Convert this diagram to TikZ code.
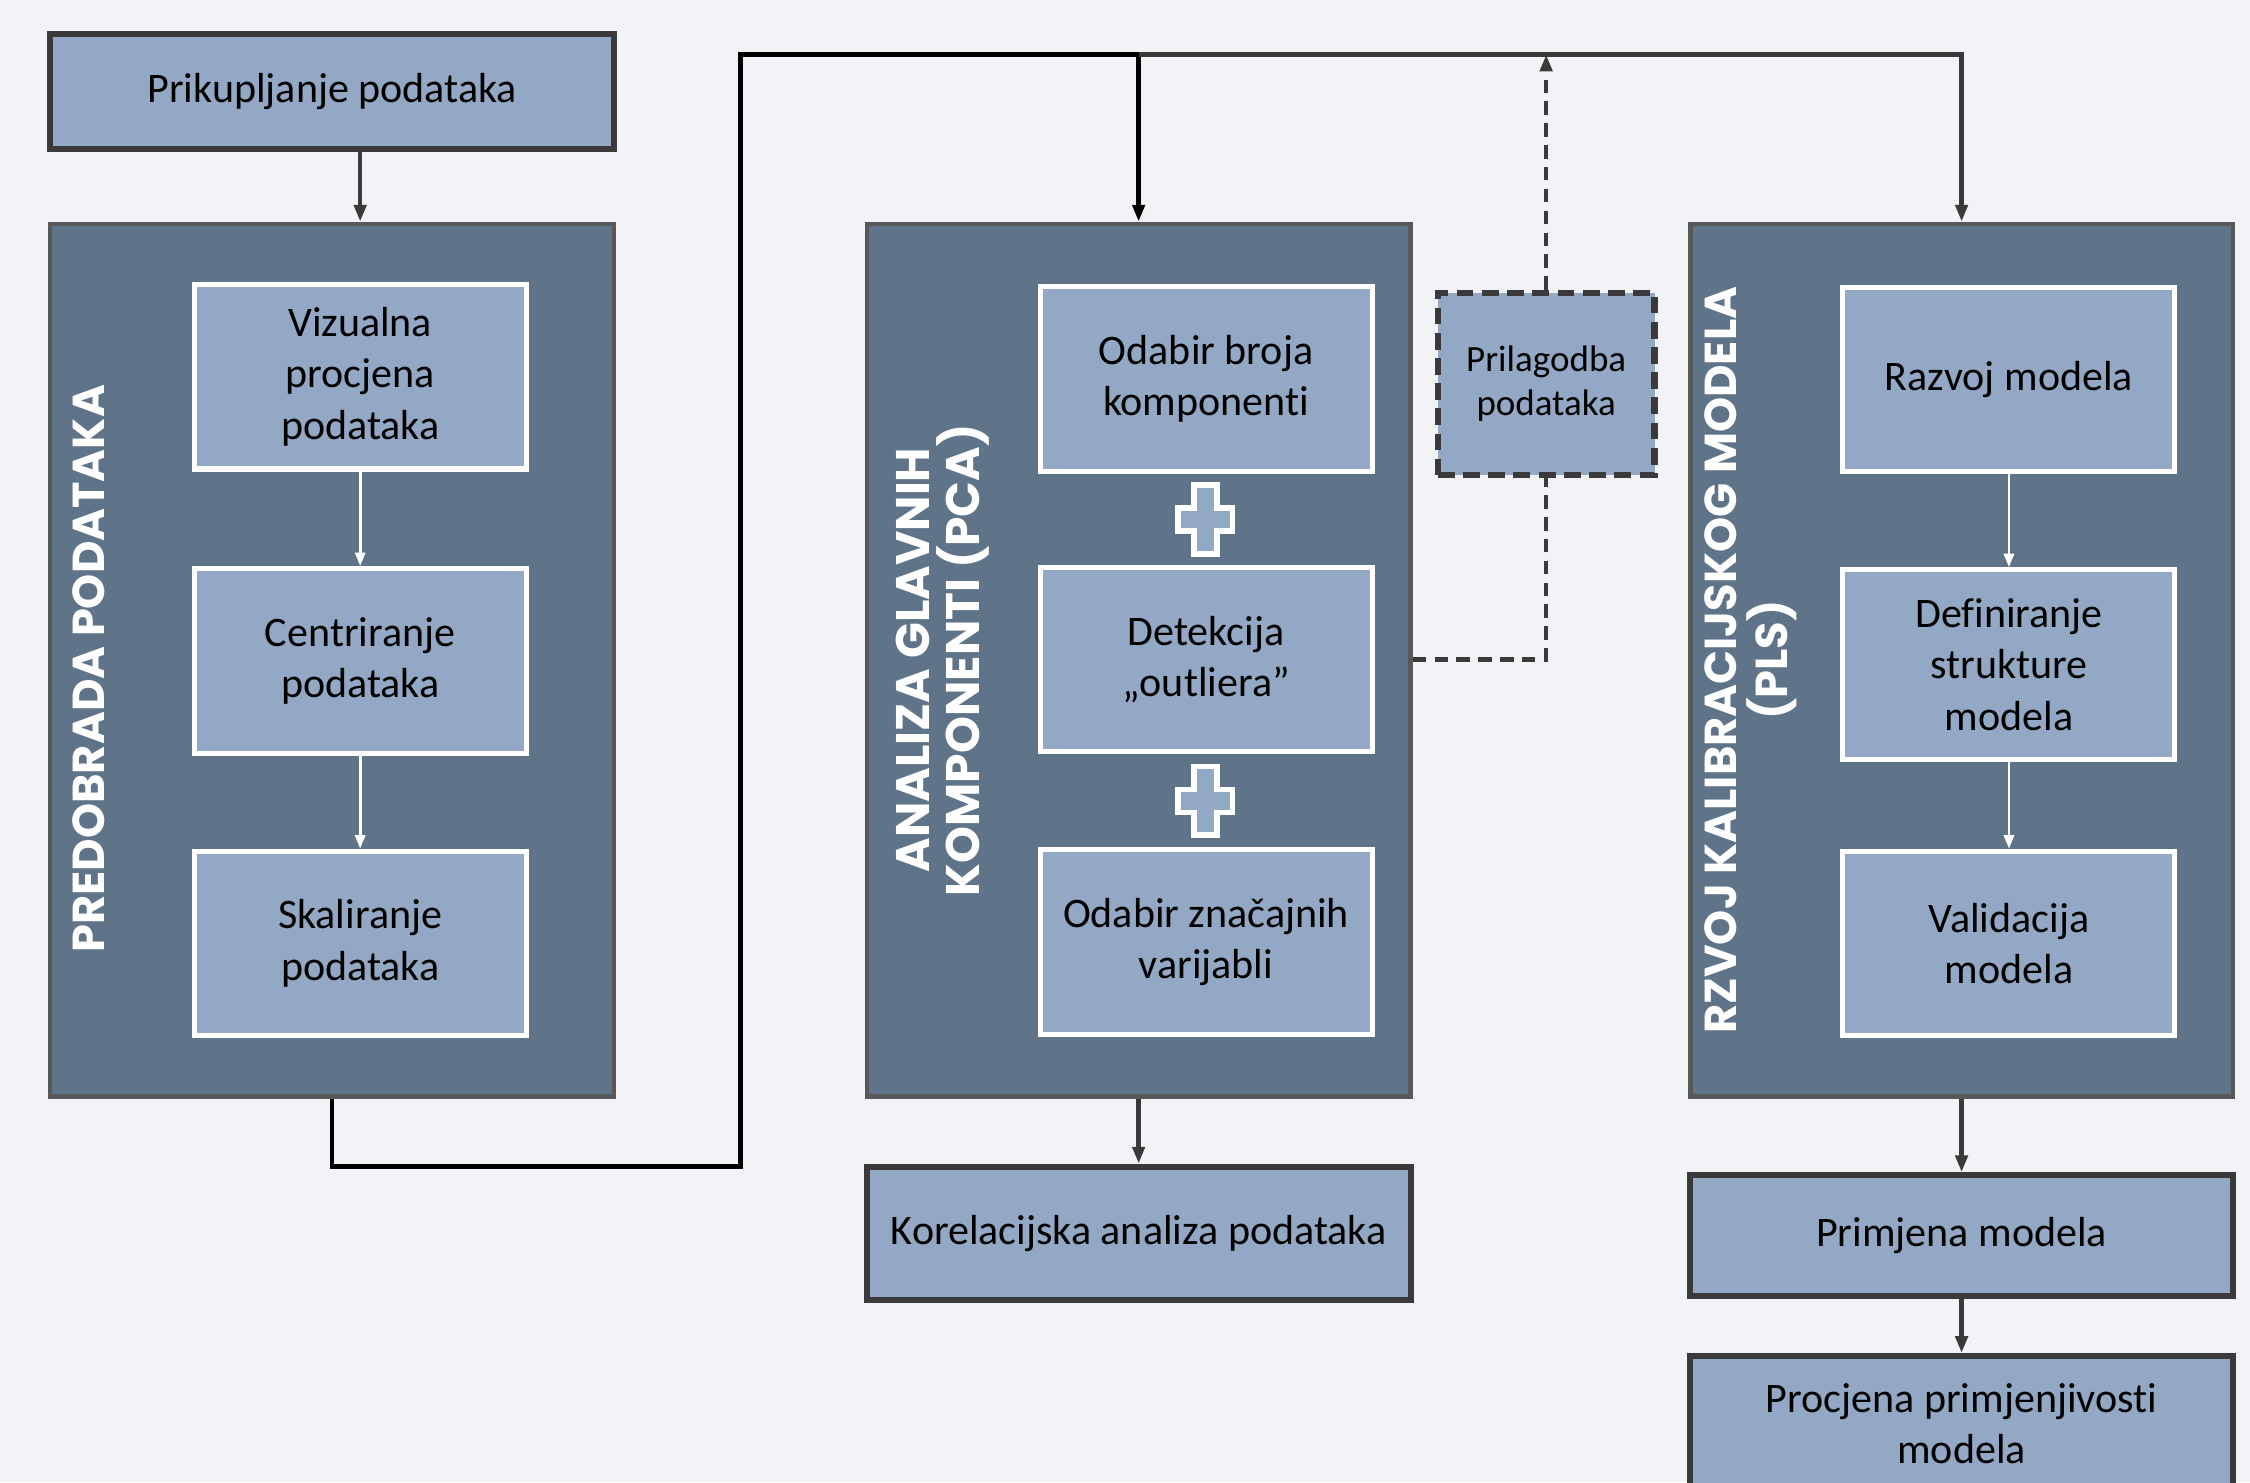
\documentclass[tikz,border=0pt]{standalone}
\usepackage{fontspec}
\setmainfont{Carlito}[Ligatures={TeX,NoCommon}]
\newfontfamily\titlefont{Poppins}
\usetikzlibrary{arrows.meta}
\definecolor{boxblue}{HTML}{93A8C4}
\definecolor{panelblue}{HTML}{607489}
\definecolor{edgegray}{HTML}{3A3A3A}
\definecolor{paper}{HTML}{F2F3F6}
\tikzset{>/.tip={Triangle[length=5pt,width=3.6pt]},
  box/.style={draw=edgegray, line width=1.8pt, fill=boxblue, align=center, inner sep=2pt,
    font=\fontsize{12.5}{15.3}\selectfont},
  inbox/.style={draw=white, line width=1.5pt, fill=boxblue, align=center, inner sep=2pt,
    minimum width=34.7mm, minimum height=19.3mm, font=\fontsize{12.5}{15.3}\selectfont},
  panel/.style={draw=edgegray!85, line width=1.3pt, fill=panelblue,
    minimum width=58.95mm, minimum height=91.2mm},
  paneltitle/.style={rotate=90, text=white, align=center,
    font=\titlefont\bfseries\fontsize{13.3}{15}\selectfont},
  conn/.style={line width=1.3pt, draw=black},
  greyconn/.style={line width=1.3pt, draw=edgegray},
  dashconn/.style={line width=1.3pt, draw=edgegray, dash pattern=on 4pt off 2.5pt},
  inarrow/.style={draw=white, line width=0.8pt, -{Triangle[length=4pt,width=3pt]}},
  plussign/.style={draw=white, line width=1.6pt, fill=boxblue}
}
\begin{document}
\begin{tikzpicture}[x=0.15mm, y=-0.15mm]
\fill[paper] (0,0) rectangle (1568,1033);
\useasboundingbox (0,0) rectangle (1568,1033);

% predobrada
\node[box, minimum width=58.95mm, minimum height=12mm] (prik) at (231.5,64) {Prikupljanje podataka};
\node[panel] (pred) at (231.5,460) {};
\node[paneltitle] (predt) at (62,466) {PREDOBRADA PODATAKA};
\node[inbox] (viz) at (251,262.5) {Vizualna\\procjena\\podataka};
\node[inbox] (cen) at (251,460.5) {Centriranje\\podataka};
\node[inbox] (ska) at (251,657.5) {Skaliranje\\podataka};

% PCA
\node[panel, minimum width=56.85mm] (ana) at (793.5,460) {};
\node[paneltitle, font=\titlefont\bfseries\fontsize{14}{15}\selectfont] (anat) at (657,460) {ANALIZA GLAVNIH\\KOMPONENTI (PCA)};
\node[inbox] (odb) at (840.5,264) {Odabir broja\\komponenti};
\node[inbox] (det) at (840.5,459.5) {Detekcija\\„outliera”};
\node[inbox] (zna) at (840.5,656.5) {Odabir značajnih\\varijabli};
\node[box, minimum width=56.85mm, minimum height=13.95mm] (kor) at (793.5,859.5) {Korelacijska analiza podataka};
\node[box, dash pattern=on 5pt off 2.5pt, minimum width=22.65mm, minimum height=19.05mm,
  font=\fontsize{11}{13}\selectfont] (pri) at (1077.5,267.5) {Prilagodba\\podataka};

% PLS
\node[panel, minimum width=56.7mm] (raz) at (1367,460) {};
\node[paneltitle] (razt) at (1220,460) {RZVOJ KALIBRACIJSKOG MODELA\\(PLS)};
\node[inbox] (rm) at (1400,264.5) {Razvoj modela};
\node[inbox, minimum height=19.8mm] (def) at (1400,463) {Definiranje\\strukture\\modela};
\node[inbox] (val) at (1400,657.5) {Validacija\\modela};
\node[box, minimum width=56.7mm, minimum height=12.6mm] (prim) at (1367,861) {Primjena modela};
\node[box, minimum width=56.7mm, minimum height=14.1mm] (proc) at (1367,992) {Procjena primjenjivosti\\modela};

\foreach \y in {362,558}
{
  \draw[plussign, shift={(840,\y)}] (-8,-24) -- (8,-24) -- (8,-8) -- (19,-8) -- (19,8) -- (8,8)
    -- (8,24) -- (-8,24) -- (-8,8) -- (-19,8) -- (-19,-8) -- (-8,-8) -- cycle;
}

\coordinate (low) at (516,813);
\coordinate (top) at (516,38);
\draw[conn,->] (pred.south) |- (low) -- (top) -| (ana.north);
\draw[greyconn,->] (ana.north |- top) -| (raz.north);
\draw[greyconn,->] (prik.south -| viz.north) -- (pred.north -| viz.north);
\draw[greyconn,->] (ana.south) -- (kor.north);
\draw[greyconn,->] (raz.south) -- (prim.north);
\draw[greyconn,->] (prim.south) -- (proc.north);
\foreach \a/\b in {viz/cen,cen/ska,rm/def,def/val}
{
  \draw[inarrow] (\a.south) -- (\b.north);
}
\draw[dashconn] (ana.east |- det.east) -| (pri.south);
\draw[dashconn,->] (pri.north) -- (pri.north |- top);
\end{tikzpicture}
\end{document}
